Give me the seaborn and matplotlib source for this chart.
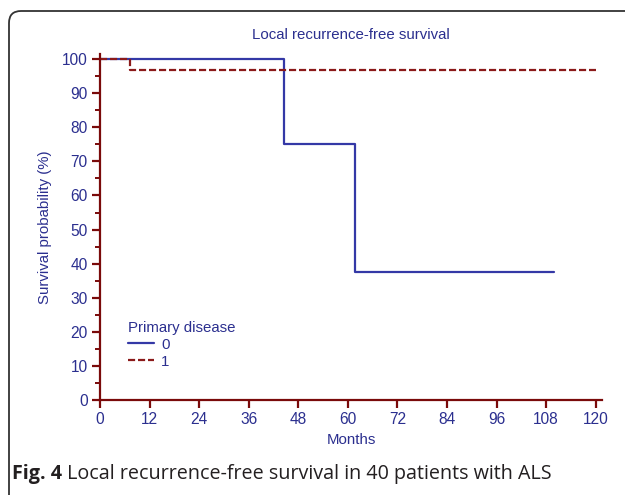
import matplotlib
matplotlib.use("Agg")
import matplotlib.pyplot as plt
import matplotlib.transforms as mtransforms
from matplotlib.patches import PathPatch
from matplotlib.path import Path
from matplotlib.ticker import MultipleLocator
import seaborn as sns
import pandas as pd

# ---- data ----
group0_months = [0, 44.5, 61.7, 110]
group0_surv = [100, 75, 37.5, 37.5]
group1_months = [0, 7.3, 120]
group1_surv = [100, 96.8, 96.8]
group_labels = ["0", "1"]
x_ticks = [0, 12, 24, 36, 48, 60, 72, 84, 96, 108, 120]
y_ticks = [0, 10, 20, 30, 40, 50, 60, 70, 80, 90, 100]

df = pd.DataFrame({
    "Months": group0_months + group1_months,
    "Survival": group0_surv + group1_surv,
    "Primary disease": [group_labels[0]] * len(group0_months) + [group_labels[1]] * len(group1_months),
})

sns.set_theme(style="white")
plt.rcParams["font.family"] = ["Liberation Sans", "DejaVu Sans"]

TXT = "#2b2f8f"
SPINE = "#7a0a0a"
BLUE = "#3438a6"
RED = "#8b1a1a"

fig = plt.figure(figsize=(6.25, 4.95), dpi=100)
ax = fig.add_axes([100 / 625, 95 / 495, 502 / 625, 346 / 495])

sns.lineplot(
    data=df, x="Months", y="Survival", hue="Primary disease", style="Primary disease",
    palette={"0": BLUE, "1": RED}, dashes={"0": "", "1": (3.2, 1.3)},
    drawstyle="steps-post", estimator=None, sort=False, linewidth=1.6, ax=ax,
)

ax.set_xlim(0, 121.5)
ax.set_ylim(0, 101.5)
ax.set_xticks(x_ticks)
ax.set_yticks(y_ticks)
ax.yaxis.set_minor_locator(MultipleLocator(5))
for s in ["top", "right"]:
    ax.spines[s].set_visible(False)
for s in ["left", "bottom"]:
    ax.spines[s].set_color(SPINE)
    ax.spines[s].set_linewidth(1.6)
ax.tick_params(axis="both", which="major", direction="out", length=6, width=1.6,
               color=SPINE, labelcolor=TXT, labelsize=11.2, pad=3, left=True, bottom=True)
ax.tick_params(axis="y", which="minor", direction="out", length=3.5, width=1.4, color=SPINE, left=True)
ax.grid(False)

ax.set_xlabel("Months", color=TXT, fontsize=10.8, labelpad=4)
ax.set_ylabel("Survival probability (%)", color=TXT, fontsize=10.8, labelpad=7)
ax.set_title("Local recurrence-free survival", color=TXT, fontsize=10.8, pad=11)

sns.move_legend(ax, "lower left", bbox_to_anchor=(0.035, 0.06), frameon=False,
                title="Primary disease", fontsize=10.8, title_fontsize=10.8,
                labelcolor=TXT, alignment="left", handlelength=1.7,
                handletextpad=0.5, labelspacing=0.2, borderpad=0.2)
leg = ax.get_legend()
leg.get_title().set_color(TXT)

# frame around the figure panel: left edge and top edge with a rounded top-left corner
top = 495 - 11
verts = [(9, -10), (9, top - 12), (9, top), (21, top), (700, top)]
codes = [Path.MOVETO, Path.LINETO, Path.CURVE3, Path.CURVE3, Path.LINETO]
frame = PathPatch(Path(verts, codes), transform=mtransforms.IdentityTransform(),
                  facecolor="none", edgecolor="#333333", linewidth=1.3)
fig.add_artist(frame)

# caption
t1 = fig.text(12 / 625, 1 - 479 / 495, "Fig. 4", fontsize=14.2, fontweight="bold",
              family=["Open Sans", "DejaVu Sans"], color="#231f20", va="baseline")
fig.add_artist(matplotlib.text.Annotation(
    " Local recurrence-free survival in 40 patients with ALS", xy=(1, 0), xycoords=t1,
    va="bottom", ha="left", fontsize=14.2, family=["Open Sans", "DejaVu Sans"],
    color="#231f20", annotation_clip=False))

fig.savefig("out.png", dpi=100)
